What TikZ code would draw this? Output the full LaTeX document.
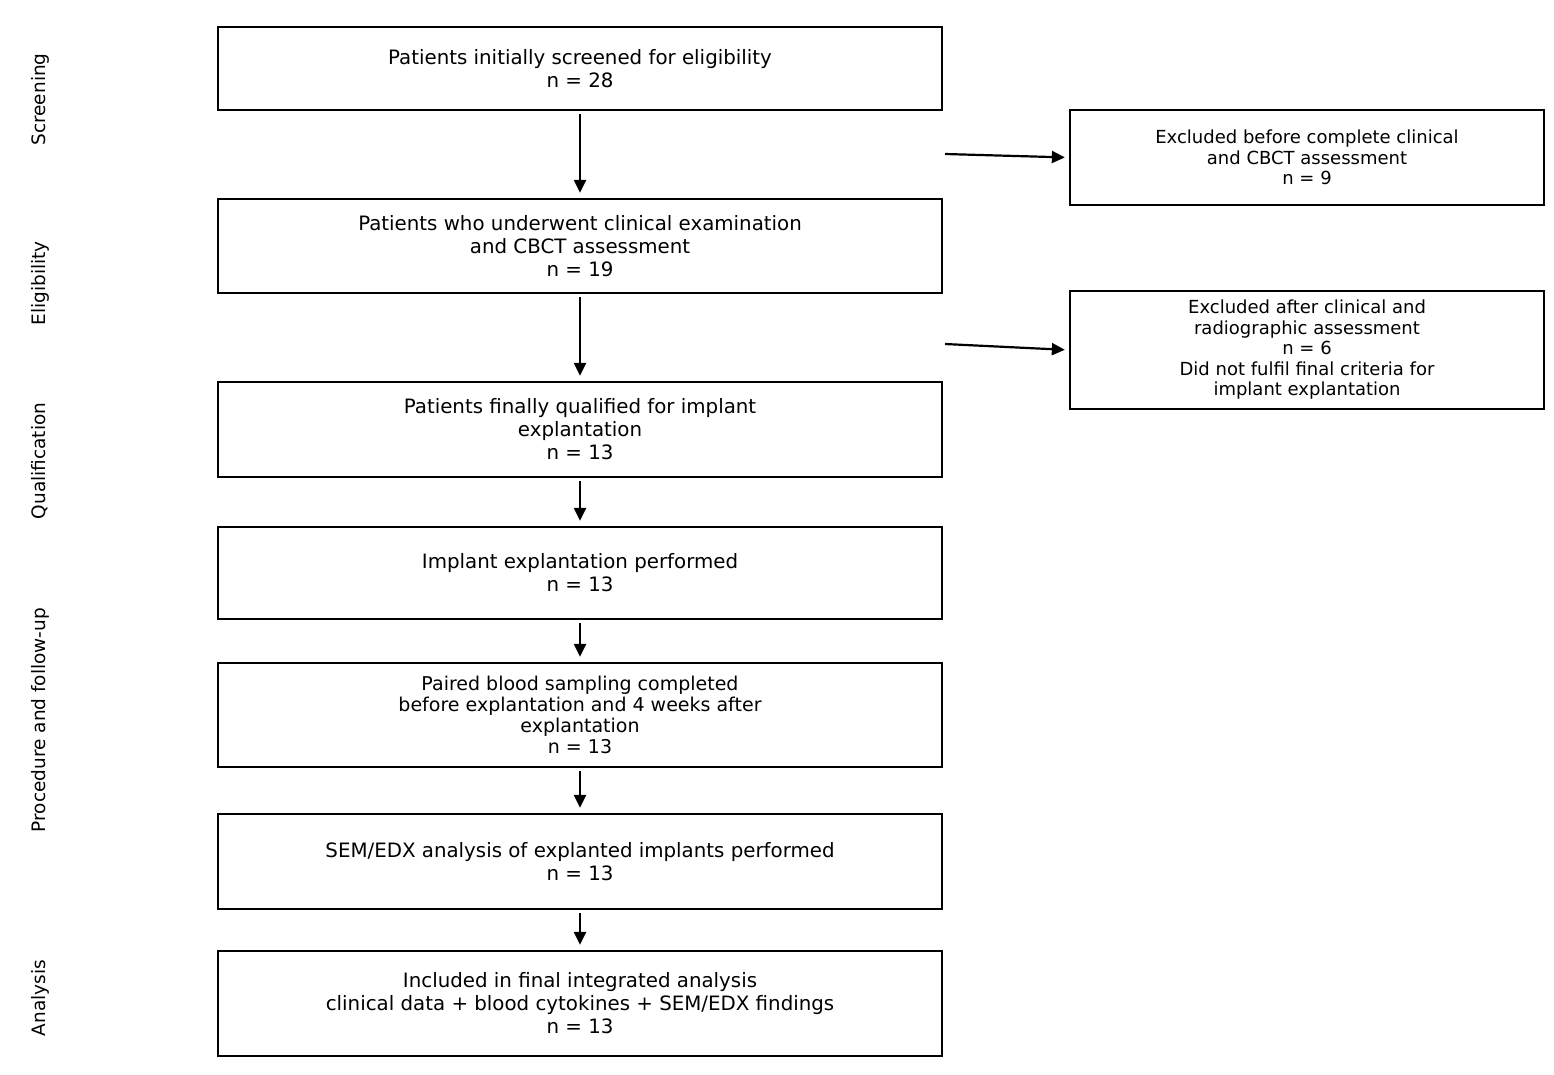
\documentclass[tikz,border=0pt]{standalone}
\usepackage{fontspec}
\setmainfont{DejaVu Sans}
\usetikzlibrary{arrows.meta}
\begin{document}
\begin{tikzpicture}[x=1pt,y=-1pt,>={Triangle[length=13pt,width=12pt]}, line join=miter,
	box/.style={draw,line width=2.3pt,minimum width=724pt,inner sep=0pt,align=center,font=\fontsize{19.8}{23}\selectfont},
	side/.style={draw,line width=2.3pt,minimum width=474pt,inner sep=0pt,align=center,font=\fontsize{18}{20.5}\selectfont},
	stage/.style={rotate=90,font=\fontsize{18.5}{22}\selectfont},
	arr/.style={->,line width=2.2pt}]
	\useasboundingbox (0,0) rectangle (1554,1074);
	\node[box,minimum height=83pt] (b1) at (580,68.5) {Patients initially screened for eligibility\\n = 28};
	\node[box,minimum height=94pt] (b2) at (580,246) {Patients who underwent clinical examination\\and CBCT assessment\\n = 19};
	\node[box,minimum height=95pt] (b3) at (580,429.5) {Patients finally qualified for implant\\explantation\\n = 13};
	\node[box,minimum height=92pt] (b4) at (580,573) {Implant explantation performed\\n = 13};
	\node[box,minimum height=104pt,font=\fontsize{19}{21}\selectfont] (b5) at (580,715) {Paired blood sampling completed\\before explantation and 4 weeks after\\explantation\\n = 13};
	\node[box,minimum height=95pt] (b6) at (580,861.5) {SEM/EDX analysis of explanted implants performed\\n = 13};
	\node[box,minimum height=105pt] (b7) at (580,1003.5) {Included in final integrated analysis\\clinical data + blood cytokines + SEM/EDX findings\\n = 13};
	\node[side,minimum height=95pt] (e1) at (1307,157.5) {Excluded before complete clinical\\and CBCT assessment\\n = 9};
	\node[side,minimum height=118pt] (e2) at (1307,350) {Excluded after clinical and\\radiographic assessment\\n = 6\\Did not fulfil final criteria for\\implant explantation};
	% stage labels
	\node[stage] (l1) at (40,99.5) {Screening};
	\node[stage] (l2) at (40,283.5) {Eligibility};
	\node[stage] (l3) at (40,461) {Qualification};
	\node[stage] (l4) at (40,720) {Procedure and follow-up};
	\node[stage] (l5) at (40,998) {Analysis};
	% arrows
	\foreach \a/\b in {b1/b2,b2/b3,b3/b4,b4/b5,b5/b6,b6/b7}
		\draw[arr,shorten <=3pt,shorten >=5pt] (\a.south)--(\b.north);
	\coordinate (s1) at (945,154);
	\coordinate (s2) at (945,344);
	\draw[arr,shorten >=4pt] (s1)--(e1.west);
	\draw[arr,shorten >=4pt] (s2)--(e2.west);
\end{tikzpicture}
\end{document}
